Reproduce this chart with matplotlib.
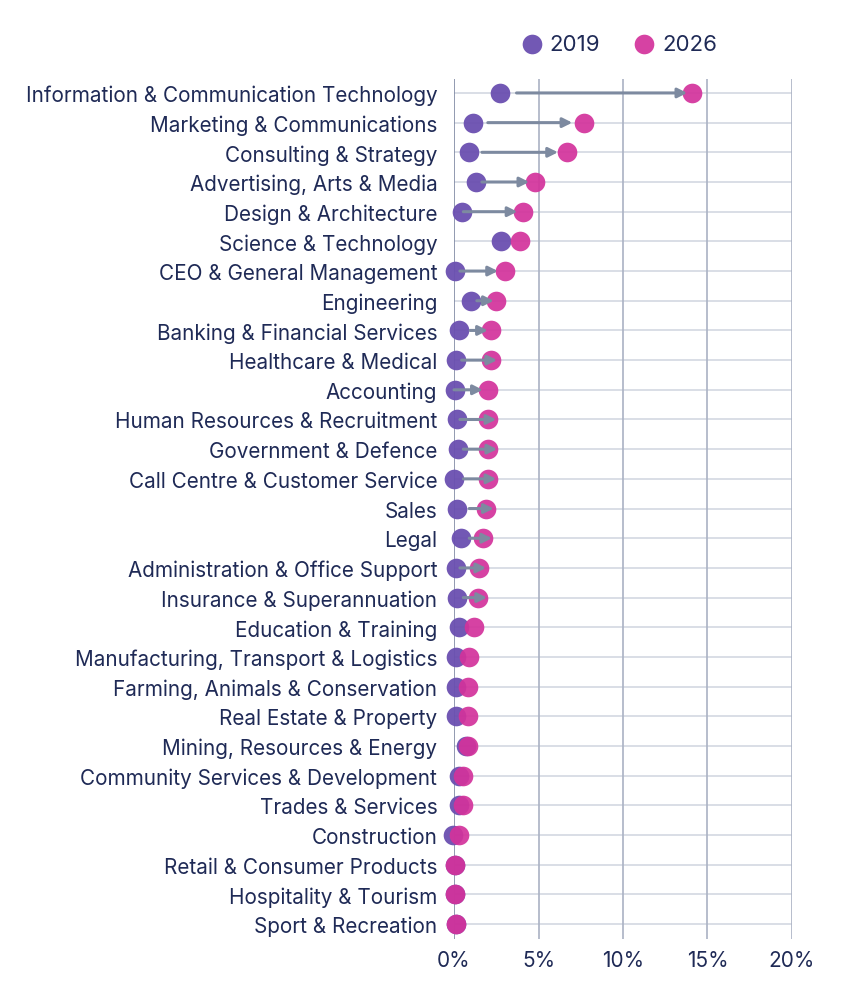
import matplotlib.pyplot as plt
import numpy as np

categories = [
    "Information & Communication Technology", "Marketing & Communications",
    "Consulting & Strategy", "Advertising, Arts & Media", "Design & Architecture",
    "Science & Technology", "CEO & General Management", "Engineering",
    "Banking & Financial Services", "Healthcare & Medical", "Accounting",
    "Human Resources & Recruitment", "Government & Defence",
    "Call Centre & Customer Service", "Sales", "Legal",
    "Administration & Office Support", "Insurance & Superannuation",
    "Education & Training", "Manufacturing, Transport & Logistics",
    "Farming, Animals & Conservation", "Real Estate & Property",
    "Mining, Resources & Energy", "Community Services & Development",
    "Trades & Services", "Construction", "Retail & Consumer Products",
    "Hospitality & Tourism", "Sport & Recreation",
]
share_2019 = [2.7, 1.1, 0.9, 1.3, 0.5, 2.8, 0.05, 1.0, 0.3, 0.1, 0.05, 0.2, 0.25,
              0.0, 0.2, 0.4, 0.1, 0.2, 0.3, 0.1, 0.1, 0.1, 0.7, 0.3, 0.3, -0.05,
              0.05, 0.05, 0.1]
share_2026 = [14.1, 7.7, 6.7, 4.8, 4.1, 3.9, 3.0, 2.5, 2.2, 2.2, 2.0, 2.0, 2.0,
              2.0, 1.9, 1.7, 1.5, 1.4, 1.2, 0.9, 0.8, 0.8, 0.8, 0.55, 0.55, 0.3,
              0.05, 0.05, 0.1]
# arrow start / end per row (None = no arrow)
arrow_from = [3.7, 2.0, 1.65, 1.65, 0.55, None, 0.35, 1.35, 0.95, 0.45, 0.0, 0.35,
              0.55, 0.55, 0.9, 0.9, 0.35, 0.55]
arrow_to = [13.8, 7.0, 6.15, 4.45, 3.75, None, 2.6, 2.35, 2.0, 2.55, 1.7, 2.5,
            2.55, 2.5, 2.35, 2.25, 1.9, 1.95]
xticks = [0, 5, 10, 15, 20]

NAVY = "#1f2a56"
PURPLE = "#6a4fb0"
MAGENTA = "#d3329b"
ARROW = "#7d8aa0"

plt.rcParams["font.family"] = ["Inter", "DejaVu Sans"]

fig = plt.figure(figsize=(8.42, 9.95), dpi=100)
ax = fig.add_axes([0.5392, 0.0553, 0.4014, 0.8643])

y = np.arange(len(categories))

for i in y:
    ax.axhline(i, color="#d3d8e2", lw=1.2, zorder=0)
for t in xticks:
    ax.axvline(t, color="#aab2c4" if t else "#7f89a3", lw=1.2, zorder=0)

ax.scatter(share_2019, y, s=200, color=PURPLE, alpha=0.95, zorder=3,
           clip_on=False, label="2019", linewidths=0)
ax.scatter(share_2026, y, s=200, color=MAGENTA, alpha=0.92, zorder=4,
           clip_on=False, label="2026", linewidths=0)

for i, (a, b) in enumerate(zip(arrow_from, arrow_to)):
    if a is None:
        continue
    ax.annotate("", xy=(b, i), xytext=(a, i),
                arrowprops=dict(arrowstyle="-|>", color=ARROW, lw=2.2,
                                mutation_scale=14, shrinkA=0, shrinkB=0),
                zorder=5)

ax.set_xlim(0, 20)
ax.set_ylim(len(categories) - 0.5, -0.47)
ax.set_yticks(y)
ax.set_yticklabels(categories)
ax.set_xticks(xticks)
ax.set_xticklabels([f"{t}%" for t in xticks])
ax.tick_params(axis="y", length=0, pad=12, labelsize=14.9, labelcolor=NAVY)
ax.tick_params(axis="x", length=0, pad=8, labelsize=15, labelcolor=NAVY)
for s in ax.spines.values():
    s.set_visible(False)

fig.legend(loc="center", bbox_to_anchor=(0.735, 0.955), ncol=2, frameon=False,
           fontsize=16, labelcolor=NAVY, handlelength=1.0, handletextpad=0.3,
           columnspacing=1.5, markerscale=1.0)

plt.savefig("out.png", dpi=100)
